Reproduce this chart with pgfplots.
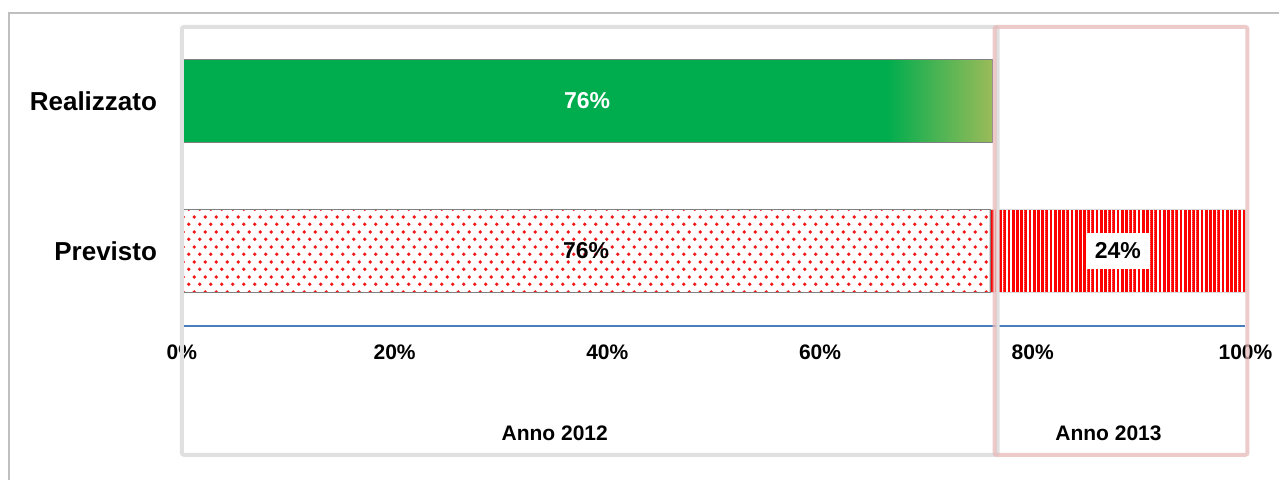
\documentclass[border=0pt]{standalone}
\usepackage{pgfplots}
\pgfplotsset{compat=1.18}
\usepackage{fontspec}
\setmainfont{Liberation Sans}
\usetikzlibrary{patterns}
\definecolor{barG}{HTML}{00AD4E}
\definecolor{barO}{HTML}{9BBB59}
\definecolor{axblue}{HTML}{4A7EBB}
\definecolor{boxgray}{HTML}{E0E0E0}
\definecolor{boxpink}{HTML}{E6B9B8}
\definecolor{outer}{HTML}{BFBFBF}
\definecolor{dotred}{HTML}{F01818}
\pgfdeclarehorizontalshading{greenfade}{100bp}{color(0bp)=(barG); color(25bp)=(barG); color(68.5bp)=(barG); color(75bp)=(barO); color(100bp)=(barO)}
\pgfdeclarepatternformonly{reddots}{\pgfqpoint{0pt}{0pt}}{\pgfqpoint{5.5pt}{7.4pt}}{\pgfqpoint{5.5pt}{7.4pt}}{%
  \pgfpathcircle{\pgfqpoint{1.375pt}{1.85pt}}{0.95pt}%
  \pgfpathcircle{\pgfqpoint{4.125pt}{5.55pt}}{0.95pt}%
  \pgfusepath{fill}}
\pgfdeclarepatternformonly{redstripes}{\pgfqpoint{0pt}{-0.1pt}}{\pgfqpoint{2.1pt}{1.1pt}}{\pgfqpoint{2.1pt}{1pt}}{%
  \pgfpathrectangle{\pgfqpoint{0pt}{-0.1pt}}{\pgfqpoint{1.4pt}{1.2pt}}%
  \pgfusepath{fill}}
\begin{document}
\begin{tikzpicture}
\path (0,0) rectangle (640pt,240pt);
% outer border (left and top visible)
\draw[outer, line width=0.6pt] (4.5pt,0pt) -- (4.5pt,233.5pt) -- (640pt,233.5pt);
\begin{axis}[
  at={(91pt,77pt)}, anchor=south west,
  scale only axis, width=532pt, height=150pt,
  xmin=0, xmax=100, ymin=-0.5, ymax=1.5,
  xbar stacked, bar width=41.5pt,
  axis x line*=bottom, axis y line*=left,
  x axis line style={axblue, line width=0.7pt, -},
  y axis line style={outer, line width=1pt, -},
  xtick={0,20,40,60,80,100},
  xticklabels={0\%,20\%,40\%,60\%,80\%,100\%},
  ytick={0,1},
  yticklabels={Previsto,Realizzato},
  major tick length=0pt,
  xticklabel style={font=\fontsize{10.5}{12}\selectfont\bfseries, anchor=base, yshift=-16.6pt},
  yticklabel style={font=\fontsize{13}{15}\selectfont\bfseries, anchor=east, inner sep=0pt, xshift=-12.3pt},
  clip=false,
]
\addplot[shade, shading=greenfade, draw=black!50, line width=0.5pt] coordinates {(0,0) (76.2,1)};
\addplot[pattern=reddots, pattern color=dotred, draw=black!50, line width=0.6pt] coordinates {(76,0) (0,1)};
\addplot[pattern=redstripes, pattern color=red, draw=black!15, line width=0.8pt] coordinates {(24,0) (0,1)};
\coordinate (lr) at (axis cs:38.1,1);
\coordinate (lp) at (axis cs:38,0);
\coordinate (lq) at (axis cs:88,0);
\end{axis}
\node[text=white, font=\fontsize{11.5}{13}\selectfont\bfseries] at (lr) {76\%};
\node[text=black, font=\fontsize{11.5}{13}\selectfont\bfseries] at (lp) {76\%};
\node[text=black, fill=white, inner xsep=4pt, inner ysep=5pt, font=\fontsize{11.5}{13}\selectfont\bfseries] at (lq) {24\%};
% year boxes
\draw[boxgray, line width=2pt, rounded corners=1pt] (91pt,12.5pt) rectangle (499pt,226.5pt);
\draw[boxpink, opacity=0.75, line width=2pt, rounded corners=1pt] (497.5pt,12.5pt) rectangle (624pt,226.5pt);
\node[anchor=base, font=\fontsize{10.5}{12}\selectfont\bfseries, inner sep=0pt] at (277.5pt,19.5pt) {Anno 2012};
\node[anchor=base, font=\fontsize{10.5}{12}\selectfont\bfseries, inner sep=0pt] at (554.5pt,19.5pt) {Anno 2013};
\end{tikzpicture}
\end{document}
